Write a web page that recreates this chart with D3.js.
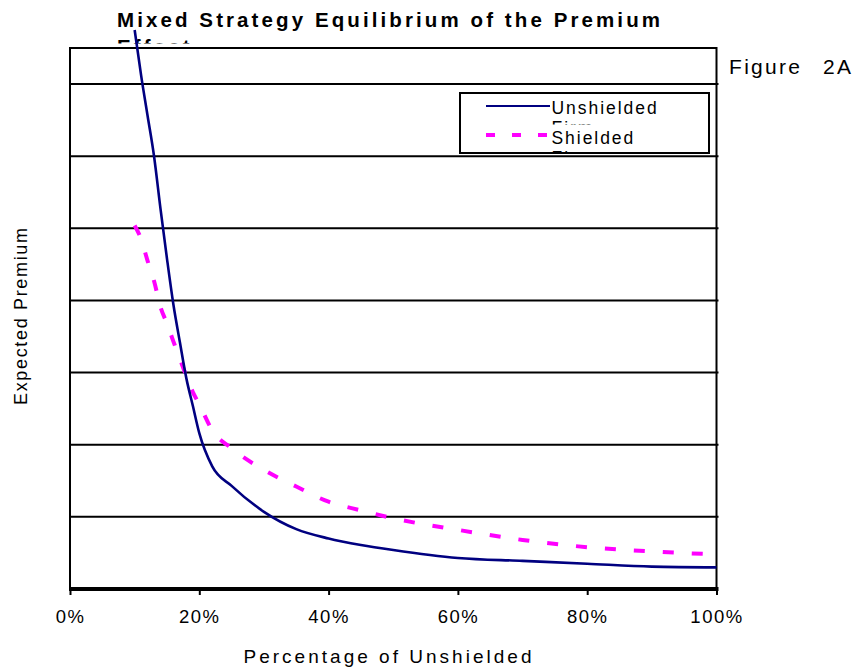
<!DOCTYPE html>
<html>
<head>
<meta charset="utf-8">
<script src="https://cdn.jsdelivr.net/npm/d3@7"></script>
<style>
  html, body { margin: 0; padding: 0; background: #fff; }
  svg { display: block; font-family: "Liberation Sans", Arial, sans-serif; }
</style>
</head>
<body>
<svg id="chart" width="857" height="669"></svg>
<script>
// Share of unshielded firms (%) at which the premiums were computed
const sharePct = [10, 11, 12, 13, 14, 15, 16, 17, 18, 19, 20, 22, 25, 30, 35, 40, 45, 50, 60, 70, 80, 90, 100];
// Expected premium, unshielded firms
const unshielded = [7.75, 7.12, 6.56, 6.0, 5.27, 4.58, 3.94, 3.42, 2.92, 2.54, 2.16, 1.70, 1.43, 1.07, 0.83, 0.70, 0.61, 0.54, 0.43, 0.39, 0.35, 0.31, 0.30];
// Expected premium, shielded firms
const shielded = [5.04, 4.85, 4.55, 4.27, 3.91, 3.68, 3.43, 3.19, 2.95, 2.73, 2.56, 2.20, 1.95, 1.65, 1.42, 1.21, 1.09, 0.98, 0.82, 0.68, 0.58, 0.52, 0.48];
const xTickValues = [0, 20, 40, 60, 80, 100];
const gridValues = [1, 2, 3, 4, 5, 6, 7];
const seriesNames = ["Unshielded Firm", "Shielded Firm"];

const svg = d3.select("#chart");
const plot = { left: 70, right: 716.5, top: 48, bottom: 589 };

const x = d3.scaleLinear().domain([0, 100]).range([plot.left, plot.right]);
const y = d3.scaleLinear().domain([0, 7.5]).range([plot.bottom, plot.top]);

// Title (second line is hidden behind the text box edge)
const titleClip = svg.append("defs").append("clipPath").attr("id", "titleClip");
titleClip.append("rect").attr("x", 0).attr("y", 0).attr("width", 857).attr("height", 43.5);
const title = svg.append("g").attr("clip-path", "url(#titleClip)")
  .style("font-weight", "bold").style("font-size", "20.5px").attr("fill", "#000");
title.append("text").attr("x", 117).attr("y", 27)
  .attr("textLength", 543).attr("lengthAdjust", "spacing")
  .text("Mixed Strategy Equilibrium of the Premium");
title.append("text").attr("x", 117).attr("y", 54).style("letter-spacing", "3.1px")
  .text("Effect");

// Plot area
svg.append("rect")
  .attr("x", plot.left).attr("y", plot.top)
  .attr("width", plot.right - plot.left).attr("height", plot.bottom - plot.top)
  .attr("fill", "#fff").attr("stroke", "#000").attr("stroke-width", 2);

// Horizontal gridlines
svg.append("g").selectAll("line").data(gridValues).join("line")
  .attr("x1", plot.left).attr("x2", plot.right + 2)
  .attr("y1", d => y(d)).attr("y2", d => y(d))
  .attr("stroke", "#000").attr("stroke-width", 2);

// Bottom axis
const xAxis = d3.axisBottom(x).tickValues(xTickValues).tickSize(6).tickPadding(22)
  .tickFormat(d => d + "%");
const gx = svg.append("g").attr("transform", `translate(0,${plot.bottom})`).call(xAxis);
gx.select(".domain").attr("stroke", "#000").attr("stroke-width", 4)
  .attr("d", `M${plot.left - 1},0H${plot.right + 2}`);
gx.selectAll(".tick line").attr("stroke", "#000").attr("stroke-width", 2);
gx.selectAll(".tick text")
  .attr("fill", "#000").style("font-size", "18.5px").style("font-family", "'Liberation Sans', Arial, sans-serif")
  .style("letter-spacing", "1.5px").attr("dy", "0.35em").attr("y", 28);

// Axis titles
svg.append("text").attr("x", 387.5).attr("y", 662.5).attr("text-anchor", "middle")
  .style("font-size", "19px").attr("textLength", 288).attr("lengthAdjust", "spacing")
  .text("Percentage of Unshielded");
svg.append("text").attr("transform", "translate(26.5,316.5) rotate(-90)").attr("text-anchor", "middle")
  .style("font-size", "18px").attr("textLength", 177).attr("lengthAdjust", "spacing")
  .text("Expected Premium");

// Figure label
const fig = svg.append("text").attr("x", 729).attr("y", 74).style("font-size", "21px")
  .style("letter-spacing", "2.3px");
fig.append("tspan").text("Figure");
fig.append("tspan").attr("x", 823).text("2A");

// Series lines
const line = (vals) => d3.line()
  .x((d, i) => x(sharePct[i]))
  .y(d => y(d))
  .curve(d3.curveMonotoneX)(vals);

svg.append("path").attr("d", line(shielded))
  .attr("fill", "none").attr("stroke", "#FF00FF").attr("stroke-width", 4)
  .attr("stroke-dasharray", "11,18");
svg.append("path").attr("d", line(unshielded))
  .attr("fill", "none").attr("stroke", "#000080").attr("stroke-width", 2.6)
  .attr("stroke-linejoin", "round");

// Legend
const legend = svg.append("g");
legend.append("rect").attr("x", 460).attr("y", 93).attr("width", 249).attr("height", 60)
  .attr("fill", "#fff").attr("stroke", "#000").attr("stroke-width", 2);
const legendDefs = svg.select("defs");
const entries = [
  { name: seriesNames[0], color: "#000080", width: 2, dash: null, lineY: 106, textY: 114.3, clipTop: 94, clipBottom: 124.6 },
  { name: seriesNames[1], color: "#FF00FF", width: 4, dash: "9,17", lineY: 135, textY: 144, clipTop: 125, clipBottom: 152.2 }
];
entries.forEach((e, i) => {
  legendDefs.append("clipPath").attr("id", "legClip" + i)
    .append("rect").attr("x", 461).attr("y", e.clipTop).attr("width", 247).attr("height", e.clipBottom - e.clipTop);
  legend.append("line").attr("x1", 486).attr("x2", 550).attr("y1", e.lineY).attr("y2", e.lineY)
    .attr("stroke", e.color).attr("stroke-width", e.width)
    .attr("stroke-dasharray", e.dash);
  const words = e.name.split(" ");
  const t = legend.append("text").attr("clip-path", `url(#legClip${i})`)
    .style("font-size", "17.5px").style("letter-spacing", "1.95px").attr("fill", "#000");
  t.append("tspan").attr("x", 551.5).attr("y", e.textY).text(words[0]);
  t.append("tspan").attr("x", 551.5).attr("y", e.textY + 20).text(words[1]);
});
</script>
</body>
</html>
